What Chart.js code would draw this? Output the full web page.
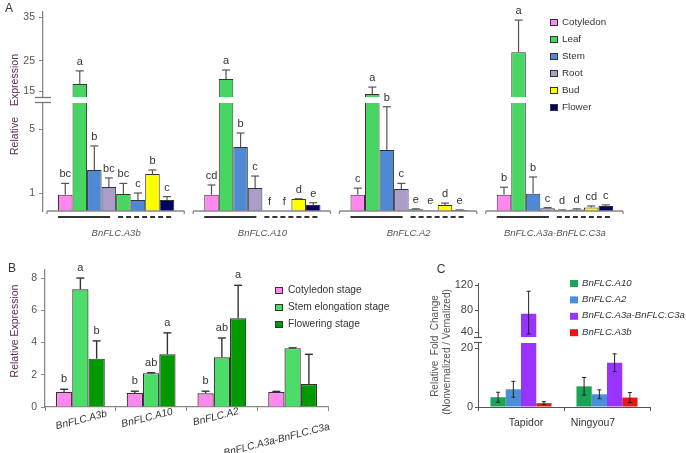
<!DOCTYPE html>
<html>
<head>
<meta charset="utf-8">
<script src="https://cdn.jsdelivr.net/npm/chart.js@4.4.1/dist/chart.umd.min.js"></script>
<style>
  html, body { margin: 0; padding: 0; background: #fff; }
  #wrap { position: relative; width: 686px; height: 453px; overflow: hidden; }
  canvas { position: absolute; }
  #chartA { left: 0; top: 0; }
  #chartB { left: 0; top: 250px; }
  #chartC { left: 420px; top: 250px; }
</style>
</head>
<body>
<div id="wrap">
  <canvas id="chartA" width="686" height="245"></canvas>
  <canvas id="chartB" width="420" height="203"></canvas>
  <canvas id="chartC" width="266" height="203"></canvas>
</div>
<script>
const FONT = "'Liberation Sans', Arial, sans-serif";

/* ── Panel A data: tissue expression ─────────────────────────── */
const genesA   = ['BnFLC.A3b', 'BnFLC.A10', 'BnFLC.A2', 'BnFLC.A3a-BnFLC.C3a'];
const tissuesA = ['Cotyledon', 'Leaf', 'Stem', 'Root', 'Leaf', 'Stem', 'Bud', 'Flower'];
const legendA  = [0, 1, 2, 3, 6, 7];          // tissues listed in the legend
// per gene: cotyledon, leaf, stem, root (seedling) | leaf, stem, bud, flower (flowering)
const valA3b = [0.9, 17.3, 2.44, 1.38, 0.94, 0.61, 2.19, 0.61];
const errA3b = [0.7, 4.4, 1.5, 0.56, 0.66, 0.39, 0.25, 0.19];
const letA3b = ['bc', 'a', 'b', 'bc', 'bc', 'c', 'b', 'c'];
const valA10 = [0.9, 19, 3.88, 1.31, 0.02, 0.02, 0.66, 0.33];
const errA10 = [0.6, 3, 0.87, 0.75, 0, 0, 0.02, 0.13];
const letA10 = ['cd', 'a', 'b', 'c', 'f', 'f', 'd', 'e'];
const valA2  = [0.9, 14, 3.69, 1.25, 0.1, 0.03, 0.33, 0.05];
const errA2  = [0.4, 2.3, 2.7, 0.35, 0.02, 0, 0.11, 0.01];
const letA2  = ['c', 'a', 'b', 'c', 'e', 'e', 'd', 'e'];
const valA3a = [0.9, 27, 0.96, 0.15, 0.05, 0.08, 0.2, 0.28];
const errA3a = [0.46, 7.3, 1.04, 0.04, 0.01, 0.04, 0.08, 0.06];
const letA3a = ['b', 'a', 'b', 'c', 'd', 'd', 'cd', 'c'];
const tickValsA = [1, 5, 15, 25, 35];

/* ── Panel B data: developmental stages ──────────────────────── */
const genesB     = ['BnFLC.A3b', 'BnFLC.A10', 'BnFLC.A2', 'BnFLC.A3a-BnFLC.C3a'];
const stagesB    = ['Cotyledon stage', 'Stem elongation stage', 'Flowering stage'];
const cotStageB  = [0.95, 0.87, 0.85, 0.93];
const cotErrB    = [0.15, 0.11, 0.13, 0.04];
const stemStageB = [7.3, 2.1, 3.08, 3.65];
const stemErrB   = [0.7, 0.03, 1.2, 0.02];
const flowStageB = [3.0, 3.27, 5.5, 1.42];
const flowErrB   = [1.1, 1.33, 2.05, 1.85];
const cotLetB    = ['b', 'b', 'b', ''];
const stemLetB   = ['a', 'ab', 'ab', ''];
const flowLetB   = ['b', 'a', 'a', ''];

/* ── Panel C data: fold change ───────────────────────────────── */
const cultivarsC = ['Tapidor', 'Ningyou7'];
const genesC     = ['BnFLC.A10', 'BnFLC.A2', 'BnFLC.A3a-BnFLC.C3a', 'BnFLC.A3b'];
const a10C  = [3.3, 7.0];  const a10ErrC = [1.7, 3.0];
const a2C   = [6.0, 4.3];  const a2ErrC  = [2.7, 1.5];
const a3aC  = [73, 15];    const a3aErrC = [37, 3];
const a3bC  = [1.3, 3.2];  const a3bErrC = [0.5, 1.7];
const tickValsC = [0, 20, 40, 80, 120];

/* ── Broken-axis mappings (value → axis units) ───────────────── */
function piecewise(knots) {
  return v => {
    let i = 1;
    while (i < knots.length - 1 && v > knots[i][0]) i++;
    const [v0, t0] = knots[i - 1], [v1, t1] = knots[i];
    return t0 + (v - v0) * (t1 - t0) / (v1 - v0);
  };
}
const toA = piecewise([[0, 0], [1, 18], [5, 82], [6.625, 108], [13, 114], [15, 120], [25, 150], [35, 194]]);
const gapA = [108, 114];
const toC = piecewise([[0, 0], [20, 59], [22, 65], [30, 70], [40, 75], [80, 97], [120, 122]]);
const gapC = [64, 70];

/* ── Helpers ─────────────────────────────────────────────────── */
function seg(ctx, x0, y0, x1, y1) {
  ctx.beginPath(); ctx.moveTo(x0, y0); ctx.lineTo(x1, y1); ctx.stroke();
}
function text(ctx, str, x, y, font, color, align = 'center', rot = 0) {
  ctx.save();
  ctx.translate(x, y);
  ctx.rotate(rot);
  ctx.font = font;
  ctx.fillStyle = color;
  ctx.textAlign = align;
  ctx.textBaseline = 'middle';
  ctx.fillText(str, 0, 0);
  ctx.restore();
}
function legendBox(ctx, x, y, color, stroke) {
  ctx.fillStyle = color;
  ctx.fillRect(x, y - 3, 8, 7);
  if (stroke) { ctx.strokeStyle = stroke; ctx.lineWidth = 1; ctx.strokeRect(x + 0.5, y - 2.5, 7, 6); }
}
function axisBreak(ctx, area, y, gap) {
  const top = y.getPixelForValue(gap[1]), bot = y.getPixelForValue(gap[0]);
  ctx.fillStyle = '#fff';
  ctx.fillRect(area.left - 12, top, area.right - area.left + 12, bot - top);
  return [top, bot];
}

/* ── Panel A ─────────────────────────────────────────────────── */
const rowsA = [
  { v: valA3b, e: errA3b, l: letA3b },
  { v: valA10, e: errA10, l: letA10 },
  { v: valA2,  e: errA2,  l: letA2 },
  { v: valA3a, e: errA3a, l: letA3a },
];
const tissueColors = ['#ff88ee', '#48d663', '#4f88d4', '#ab9dc8', '#48d663', '#4f88d4', '#ffff00', '#000066'];

const panelAPlugin = {
  id: 'panelA',
  afterDatasetsDraw(chart) {
    const { ctx, chartArea: area, scales: { x, y } } = chart;
    ctx.save();
    const metas = chart.data.datasets.map((_, i) => chart.getDatasetMeta(i));

    // error bars (upper half only)
    ctx.strokeStyle = '#555';
    ctx.lineWidth = 1.2;
    const tops = [];
    metas.forEach((meta, i) => {
      meta.data.forEach((bar, j) => {
        const r = rowsA[j];
        const top = y.getPixelForValue(toA(r.v[i] + r.e[i]));
        tops.push({ x: bar.x, y: Math.min(top, bar.y), txt: r.l[i] });
        if (r.e[i] <= 0) return;
        seg(ctx, bar.x, bar.y, bar.x, top);
        seg(ctx, bar.x - 4, top, bar.x + 4, top);
      });
    });

    // axis break
    const [gt, gb] = axisBreak(ctx, area, y, gapA);
    ctx.strokeStyle = '#777';
    ctx.lineWidth = 1.3;
    seg(ctx, area.left - 8, gt + 0.5, area.left + 8, gt + 0.5);
    seg(ctx, area.left - 8, gb - 0.5, area.left + 8, gb - 0.5);

    // significance letters
    tops.forEach(t => text(ctx, t.txt, t.x, t.y - 9, `11px ${FONT}`, '#3a2f3a'));

    // x axis pieces, underlines, gene names
    const catW = (area.right - area.left) / genesA.length;
    genesA.forEach((g, j) => {
      const cx = x.getPixelForValue(j);
      const x0 = cx - catW / 2 + 4, x1 = cx + catW / 2 - 5;
      ctx.strokeStyle = '#888';
      ctx.lineWidth = 1.3;
      seg(ctx, x0, area.bottom, x1, area.bottom);
      seg(ctx, x0, area.bottom, x0, area.bottom + 3);
      seg(ctx, x1, area.bottom, x1, area.bottom + 3);

      const b = metas.map(m => m.data[j]);
      const w = b[0].width;
      const uy = area.bottom + 6;
      ctx.strokeStyle = '#333';
      ctx.lineWidth = 2;
      seg(ctx, b[0].x - w / 2, uy, b[3].x + w / 2 - 6, uy);
      ctx.setLineDash([5, 3]);
      seg(ctx, b[4].x - w / 2 + 2, uy, b[7].x + w / 2 - 2, uy);
      ctx.setLineDash([]);

      text(ctx, g, cx, area.bottom + 22, `italic 9.5px ${FONT}`, '#555');
    });

    // legend
    legendA.forEach((i, k) => {
      const ly = 22 + 17 * k;
      legendBox(ctx, 550, ly, tissueColors[i], '#333');
      text(ctx, tissuesA[i], 562, ly, `9.8px ${FONT}`, '#3a2f3a', 'left');
    });

    // axis titles and panel letter
    text(ctx, 'Relative', 15, 136, `10.5px ${FONT}`, '#5e2d57', 'center', -Math.PI / 2);
    text(ctx, 'Expression', 15, 80, `10.5px ${FONT}`, '#5e2d57', 'center', -Math.PI / 2);
    text(ctx, 'A', 9, 9, `12px ${FONT}`, '#333');
    ctx.restore();
  }
};

new Chart(document.getElementById('chartA'), {
  type: 'bar',
  data: {
    labels: genesA,
    datasets: tissuesA.map((name, i) => ({
      label: name,
      data: rowsA.map(r => toA(r.v[i])),
      backgroundColor: tissueColors[i],
      borderColor: '#333',
      borderWidth: 1,
      categoryPercentage: 0.795,
      barPercentage: 1,
    })),
  },
  options: {
    responsive: false,
    animation: false,
    layout: { padding: { left: 0, right: 58, top: 12, bottom: 0 } },
    plugins: { legend: { display: false }, tooltip: { enabled: false } },
    scales: {
      x: {
        grid: { display: false },
        border: { display: false },
        ticks: { display: false },
        afterFit: s => { s.height = 34; },
      },
      y: {
        min: 0,
        max: 199,
        afterBuildTicks: s => { s.ticks = tickValsA.map(v => ({ value: toA(v) })); },
        ticks: {
          callback: (v, i) => String(tickValsA[i]),
          font: { family: FONT, size: 10.5 },
          color: '#555',
          padding: 4,
        },
        grid: { drawOnChartArea: false, tickLength: 4, color: '#888' },
        border: { color: '#888', width: 1.3 },
        afterFit: s => { s.width = 43; },
      },
    },
  },
  plugins: [panelAPlugin],
});

/* ── Panel B ─────────────────────────────────────────────────── */
const stageColors = ['#ff88ee', '#4cdc68', '#009a00'];
const stageVals   = [cotStageB, stemStageB, flowStageB];
const stageErrs   = [cotErrB, stemErrB, flowErrB];
const stageLets   = [cotLetB, stemLetB, flowLetB];
const labelShiftB = [[1, 170], [-4, 168], [-6, 167], [-16, 190]];

const panelBPlugin = {
  id: 'panelB',
  afterDatasetsDraw(chart) {
    const { ctx, scales: { x, y } } = chart;
    ctx.save();
    ctx.strokeStyle = '#333';
    ctx.lineWidth = 1.4;
    stageVals.forEach((vals, i) => {
      chart.getDatasetMeta(i).data.forEach((bar, j) => {
        const top = y.getPixelForValue(vals[j] + stageErrs[i][j]);
        seg(ctx, bar.x, bar.y, bar.x, top);
        seg(ctx, bar.x - 4, top, bar.x + 4, top);
        text(ctx, stageLets[i][j], bar.x, top - 10, `11px ${FONT}`, '#3a2f3a');
      });
    });

    genesB.forEach((g, j) => {
      const cx = x.getPixelForValue(j);
      text(ctx, g, cx + labelShiftB[j][0], labelShiftB[j][1], `italic 10.2px ${FONT}`, '#333', 'center', -0.25);
    });

    stagesB.forEach((s, i) => {
      const ly = 40 + 17 * i;
      legendBox(ctx, 275, ly, stageColors[i], '#333');
      text(ctx, s, 288, ly, `10.2px ${FONT}`, '#3a2f3a', 'left');
    });

    text(ctx, 'Relative Expression', 15, 81, `10.5px ${FONT}`, '#5e2d57', 'center', -Math.PI / 2);
    text(ctx, 'B', 12, 19, `12px ${FONT}`, '#333');
    ctx.restore();
  }
};

new Chart(document.getElementById('chartB'), {
  type: 'bar',
  data: {
    labels: genesB,
    datasets: stagesB.map((name, i) => ({
      label: name,
      data: stageVals[i],
      backgroundColor: stageColors[i],
      borderColor: '#333',
      borderWidth: 1.2,
      categoryPercentage: 0.69,
      barPercentage: 1,
    })),
  },
  options: {
    responsive: false,
    animation: false,
    layout: { padding: { left: 0, right: 92, top: 20, bottom: 0 } },
    plugins: { legend: { display: false }, tooltip: { enabled: false } },
    scales: {
      x: {
        grid: { offset: true, drawOnChartArea: false, tickLength: 4, color: '#888' },
        border: { color: '#888', width: 1.3 },
        ticks: { display: false },
        afterFit: s => { s.height = 46; },
      },
      y: {
        min: 0,
        max: 8.5,
        ticks: {
          stepSize: 2,
          includeBounds: false,
          font: { family: FONT, size: 10.5 },
          color: '#555',
          padding: 4,
        },
        grid: { drawOnChartArea: false, tickLength: 4, color: '#888' },
        border: { color: '#888', width: 1.3 },
        afterFit: s => { s.width = 45; },
      },
    },
  },
  plugins: [panelBPlugin],
});

/* ── Panel C ─────────────────────────────────────────────────── */
const geneColorsC = ['#1da357', '#4a8fd8', '#9933ff', '#ee1414'];
const geneValsC   = [a10C, a2C, a3aC, a3bC];
const geneErrsC   = [a10ErrC, a2ErrC, a3aErrC, a3bErrC];
const labelShiftC = [5, -14];

const panelCPlugin = {
  id: 'panelC',
  afterDatasetsDraw(chart) {
    const { ctx, chartArea: area, scales: { x, y } } = chart;
    ctx.save();

    const [gt, gb] = axisBreak(ctx, area, y, gapC);
    ctx.strokeStyle = '#555';
    ctx.lineWidth = 1.2;
    seg(ctx, area.left - 4, gt + 0.5, area.left + 4, gt + 0.5);
    seg(ctx, area.left - 4, gb - 0.5, area.left + 4, gb - 0.5);

    ctx.strokeStyle = '#222';
    ctx.lineWidth = 1;
    geneValsC.forEach((vals, i) => {
      chart.getDatasetMeta(i).data.forEach((bar, j) => {
        const hi = y.getPixelForValue(toC(vals[j] + geneErrsC[i][j]));
        const lo = y.getPixelForValue(toC(Math.max(vals[j] - geneErrsC[i][j], 0)));
        seg(ctx, bar.x, lo, bar.x, hi);
        seg(ctx, bar.x - 2, hi, bar.x + 2, hi);
        seg(ctx, bar.x - 2, lo, bar.x + 2, lo);
      });
    });

    cultivarsC.forEach((c, j) => {
      text(ctx, c, x.getPixelForValue(j) + labelShiftC[j], 173, `10.5px ${FONT}`, '#333');
    });

    genesC.forEach((g, i) => {
      const ly = 33 + 16.4 * i;
      legendBox(ctx, 150, ly, geneColorsC[i]);
      text(ctx, g, 162, ly, `italic 9.6px ${FONT}`, '#333', 'left');
    });

    text(ctx, 'Relative  Fold  Change', 15, 96, `10px ${FONT}`, '#555', 'center', -Math.PI / 2);
    text(ctx, '(Nonvernalized / Vernalized)', 27, 102, `10px ${FONT}`, '#555', 'center', -Math.PI / 2);
    text(ctx, 'C', 21, 20, `12px ${FONT}`, '#333');
    ctx.restore();
  }
};

new Chart(document.getElementById('chartC'), {
  type: 'bar',
  data: {
    labels: cultivarsC,
    datasets: genesC.map((name, i) => ({
      label: name,
      data: geneValsC[i].map(toC),
      backgroundColor: geneColorsC[i],
      borderWidth: 0,
      categoryPercentage: 0.71,
      barPercentage: 1,
    })),
  },
  options: {
    responsive: false,
    animation: false,
    layout: { padding: { left: 0, right: 36, top: 33, bottom: 0 } },
    plugins: { legend: { display: false }, tooltip: { enabled: false } },
    scales: {
      x: {
        grid: { offset: true, drawOnChartArea: false, tickLength: 4, color: '#555' },
        border: { color: '#555', width: 1 },
        ticks: { display: false },
        afterFit: s => { s.height = 46; },
      },
      y: {
        min: 0,
        max: 124,
        afterBuildTicks: s => { s.ticks = tickValsC.map(v => ({ value: toC(v) })); },
        ticks: {
          callback: (v, i) => String(tickValsC[i]),
          font: { family: FONT, size: 11 },
          color: '#444',
          padding: 2,
        },
        grid: { drawOnChartArea: false, tickLength: 3, color: '#555' },
        border: { color: '#555', width: 1 },
        afterFit: s => { s.width = 58; },
      },
    },
  },
  plugins: [panelCPlugin],
});
</script>
</body>
</html>
